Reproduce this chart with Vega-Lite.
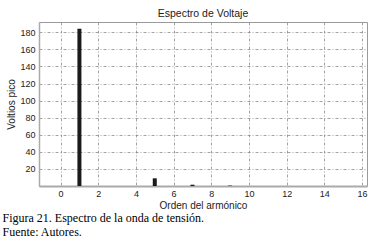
{
  "$schema": "https://vega.github.io/schema/vega-lite/v6.json",
  "padding": {"left": 2, "top": 8, "right": 5, "bottom": 5},
  "background": "white",
  "config": {
    "view": {"stroke": "#9a9a9a", "strokeWidth": 1},
    "font": "Liberation Sans",
    "axis": {
      "labelFont": "Liberation Sans",
      "titleFont": "Liberation Sans",
      "labelFontSize": 9,
      "titleFontSize": 10,
      "titleFontWeight": "normal",
      "labelColor": "#222",
      "titleColor": "#222",
      "gridColor": "#8a8a8a",
      "gridDash": [3, 2, 1, 2],
      "gridWidth": 0.8,
      "ticks": false,
      "domainColor": "#aaaaaa"
    }
  },
  "title": {
    "text": "Figura 21. Espectro de la onda de tensión.",
    "subtitle": "Fuente: Autores.",
    "orient": "bottom",
    "anchor": "start",
    "dx": -4,
    "offset": 2,
    "font": "Liberation Serif",
    "fontSize": 12,
    "fontWeight": "normal",
    "color": "#000",
    "subtitleFont": "Liberation Serif",
    "subtitleFontSize": 12,
    "subtitleColor": "#000",
    "subtitlePadding": 2
  },
  "data": {
    "values": [
      {"orden": 1, "voltios": 184},
      {"orden": 5, "voltios": 9},
      {"orden": 7, "voltios": 1.5},
      {"orden": 9, "voltios": 0.5}
    ]
  },
  "vconcat": [
    {
      "width": 328,
      "height": 164,
      "title": {
        "text": "Espectro de Voltaje",
        "font": "Liberation Sans",
        "fontSize": 10.5,
        "fontWeight": "normal",
        "color": "#222",
        "anchor": "middle",
        "offset": 3
      },
      "mark": {"type": "bar", "size": 4, "color": "#1a1a1a"},
      "encoding": {
        "x": {
          "field": "orden",
          "type": "quantitative",
          "scale": {"domain": [-0.88, 16], "nice": false, "zero": false},
          "axis": {
            "title": "Orden del armónico",
            "values": [0, 2, 4, 6, 8, 10, 12, 14, 16],
            "labelFlush": false,
            "labelOverlap": false,
            "labelPadding": 3,
            "titlePadding": 2,
            "domainWidth": 2
          }
        },
        "y": {
          "field": "voltios",
          "type": "quantitative",
          "scale": {"domain": [0, 192], "nice": false},
          "axis": {
            "title": "Voltios pico",
            "values": [20, 40, 60, 80, 100, 120, 140, 160, 180],
            "labelOverlap": false,
            "labelFlush": false,
            "labelPadding": 4,
            "titlePadding": 3,
            "domainWidth": 1.5
          }
        }
      }
    }
  ]
}
